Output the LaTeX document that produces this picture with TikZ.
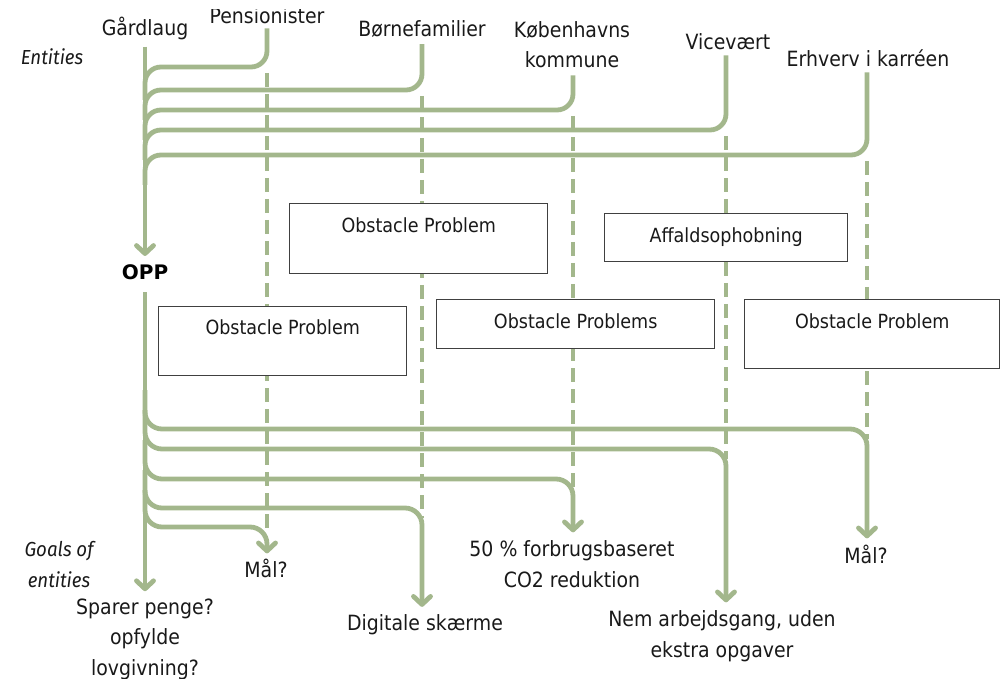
\documentclass[tikz,border=0pt]{standalone}
\usepackage{fontspec}
\setmainfont{DejaVu Sans}[FakeStretch=0.9]
\newfontfamily\tagfont{Fira Sans}[FakeStretch=0.92]
\newfontfamily\oppfont{DejaVu Sans}
\usetikzlibrary{arrows.meta}

\definecolor{sage}{RGB}{163,183,140}
\definecolor{ink}{RGB}{25,25,25}
\definecolor{boxgray}{RGB}{64,64,64}

\tikzset{
  flow/.style={draw=sage, line width=4.8pt},
  flowarrow/.style={flow, -{Straight Barb[length=8pt, width=17pt, round]}},
  dashline/.style={draw=sage, line width=4.8pt, dash pattern=on 14pt off 7pt},
  lab/.style={inner sep=0pt, anchor=base, align=center, text=ink,
    font=\fontsize{21}{30.5}\selectfont},
  tag/.style={inner sep=0pt, anchor=base, align=center, text=ink,
    font=\tagfont\itshape\fontsize{20.3}{31}\selectfont},
  oppstyle/.style={inner sep=0pt, anchor=base, text=black,
    font=\oppfont\bfseries\fontsize{20}{23}\selectfont},
  obox/.style={draw=boxgray, line width=1.4pt, fill=white, text=ink,
    inner xsep=0pt, inner ysep=0pt, anchor=north west,
    font=\fontsize{19.5}{23}\selectfont},
}

\begin{document}
\begin{tikzpicture}[x=1pt, y=-1pt]
\useasboundingbox (0,0) rectangle (1005,679);

% column positions
\coordinate (cT) at (145,0);
\coordinate (cP) at (267,0);
\coordinate (cB) at (422,0);
\coordinate (cK) at (573,0);
\coordinate (cV) at (726,0);
\coordinate (cE) at (867,0);

% entity labels (multi-line labels sit on the baseline of their last line)
\node[lab] (gard) at (145,36) {Gårdlaug};
\begin{scope}
  \clip (0,10) rectangle (1005,679);
  \node[lab] (pens) at (267,24) {Pensionister};
\end{scope}
\node[lab] (born) at (422,37) {Børnefamilier};
\node[lab] (kbh) at (572,68) {Københavns\\kommune};
\node[lab] (vice) at (728,50) {Vicevært};
\node[lab] (erhv) at (868,67) {Erhverv i karréen};
\node[tag] (ent) at (52,65) {Entities};

\node[oppstyle] (opp) at (145,280) {OPP};

% goal labels
\node[tag] (goals) at (59,587) {Goals of\\entities};
\node[lab] (spar) at (145,675) {Sparer penge?\\opfylde\\lovgivning?};
\node[lab] (mal1) at (266,577) {Mål?};
\node[lab] (digi) at (425,630) {Digitale skærme};
\node[lab] (co2) at (572,587) {50 \% forbrugsbaseret\\CO2 reduktion};
\node[lab] (nem) at (722,657) {Nem arbejdsgang, uden\\ekstra opgaver};
\node[lab] (mal2) at (866,563) {Mål?};

% trunk into and out of OPP
\draw[flowarrow, shorten >=3pt] ([yshift=-6pt]gard.south) -- ([yshift=6pt]opp.north);
\draw[flowarrow, shorten >=7pt] ([yshift=-12pt]opp.south) -- (spar.north);

% entities joining the trunk
\draw[flow, rounded corners=16pt] ([yshift=-4pt]pens.south) -- (267,67) -- (145,67) -- (145,100);
\draw[flow, rounded corners=16pt] ([yshift=-6pt]born.south) -- (422,90) -- (145,90) -- (145,120);
\draw[flow, rounded corners=16pt] ([yshift=-7pt]kbh.south -| cK) -- (573,110) -- (145,110) -- (145,140);
\draw[flow, rounded corners=16pt] ([yshift=-5pt]vice.south -| cV) -- (726,130) -- (145,130) -- (145,160);
\draw[flow, rounded corners=16pt] ([yshift=-5pt]erhv.south -| cE) -- (867,155) -- (145,155) -- (145,185);

% dashed pass-through lines
\draw[dashline] (267,73) -- (267,535);
\draw[dashline] (422,96) -- (422,518);
\draw[dashline] (573,116) -- (573,489);
\draw[dashline] (726,136) -- (726,459);
\draw[dashline] (867,161) -- (867,439);

% trunk branching out to the goals
\draw[flowarrow, rounded corners=17pt, shorten >=6pt] (145,390) -- (145,429) -- (867,429) -- (mal2.north -| cE);
\draw[flowarrow, rounded corners=17pt, shorten >=8pt] (145,410) -- (145,449) -- (726,449) -- (nem.north -| cV);
\draw[flowarrow, rounded corners=17pt, shorten >=8pt] (145,440) -- (145,479) -- (573,479) -- (co2.north -| cK);
\draw[flowarrow, rounded corners=17pt, shorten >=7pt] (145,470) -- (145,508) -- (422,508) -- (digi.north -| cB);
\draw[flowarrow, rounded corners=17pt, shorten >=5pt] (145,490) -- (145,527) -- (267,527) -- (mal1.north -| cP);

% obstacle boxes
\node[obox, minimum width=258pt, text height=29pt, text depth=41pt] (ob1) at (289,203) {Obstacle Problem};
\node[obox, minimum width=243pt, text height=29pt, text depth=19pt] (ob2) at (604,213) {Affaldsophobning};
\node[obox, minimum width=248pt, text height=28pt, text depth=41pt] (ob3) at (158,306) {Obstacle Problem};
\node[obox, minimum width=278pt, text height=29pt, text depth=20pt] (ob4) at (436,299) {Obstacle Problems};
\node[obox, minimum width=255pt, text height=29pt, text depth=40pt] (ob5) at (744,299) {Obstacle Problem};
\end{tikzpicture}
\end{document}
